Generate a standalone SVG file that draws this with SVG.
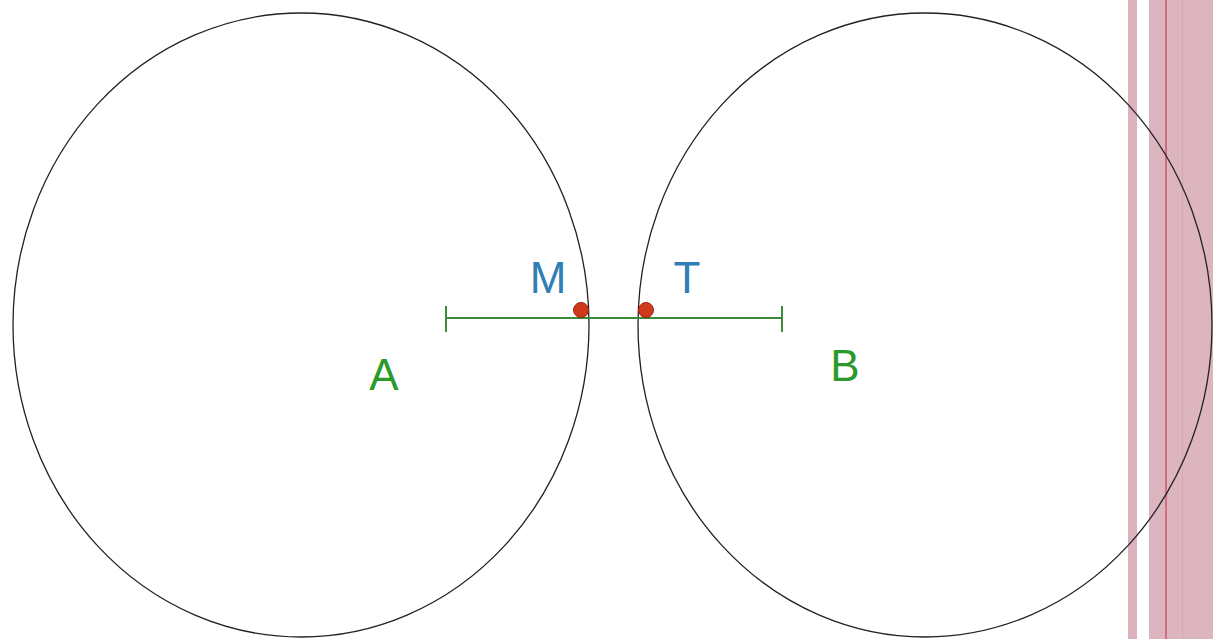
<svg xmlns="http://www.w3.org/2000/svg" width="1213" height="639" viewBox="0 0 1213 639">
<style>
.circ{fill:none;stroke:#222;stroke-width:1.3}
.seg{stroke:#3a8a3a;stroke-width:2;fill:none}
.pt{fill:#d03a1a;stroke:#a02010;stroke-width:1}
.lblb{font-family:"Liberation Sans",Arial,sans-serif;font-size:44px;fill:#2f7fb5}
.lblg{font-family:"Liberation Sans",Arial,sans-serif;font-size:44px;fill:#2a9a2a}
</style>
<rect width="1213" height="639" fill="#fff"/>
<g id="stripes">
<rect x="1128" y="0" width="9" height="639" fill="#dcb3bd"/>
<rect x="1149" y="0" width="64" height="639" fill="#ddb5be"/>
<rect x="1165" y="0" width="2" height="639" fill="#d0707f"/>
<rect x="1182" y="0" width="1" height="639" fill="#d3a8b2"/>
</g>
<g id="circleA"><ellipse class="circ" cx="301" cy="325" rx="288" ry="312"/></g>
<g id="circleB"><ellipse class="circ" cx="925" cy="325" rx="287" ry="312"/></g>
<g id="connectors">
<line class="seg" x1="446" y1="318" x2="782" y2="318"/>
<line class="seg" x1="446" y1="306" x2="446" y2="332"/>
<line class="seg" x1="782" y1="306" x2="782" y2="332"/>
</g>
<g id="M"><circle class="pt" cx="581" cy="310" r="7.5"/><text class="lblb" x="548" y="293" text-anchor="middle">M</text></g>
<g id="T"><circle class="pt" cx="646" cy="310" r="7.5"/><text class="lblb" x="687" y="293" text-anchor="middle">T</text></g>
<g id="A"><text class="lblg" x="384" y="390" text-anchor="middle">A</text></g>
<g id="B"><text class="lblg" x="845" y="381" text-anchor="middle">B</text></g>
</svg>
